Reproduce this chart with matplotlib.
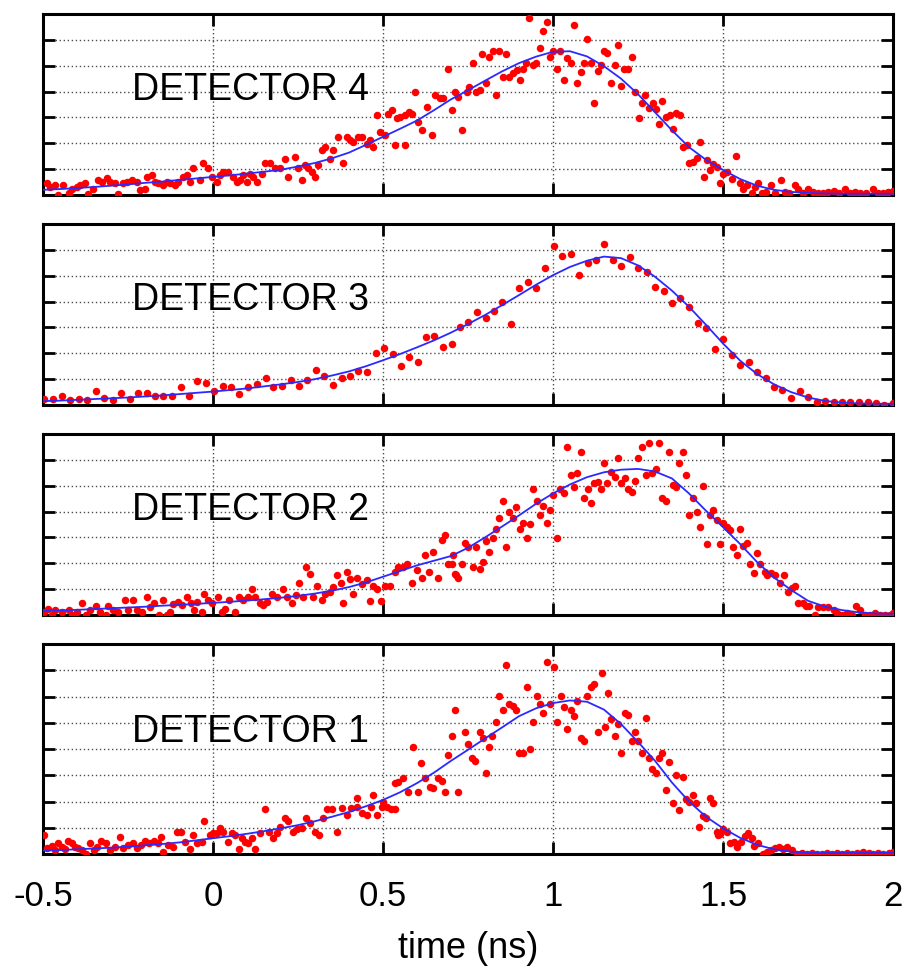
import numpy as np
import matplotlib.pyplot as plt

plt.rcParams['font.family'] = ['Liberation Sans', 'DejaVu Sans']
plt.rcParams['axes.unicode_minus'] = False

# time grid (ns) on which the fitted curves were read
fit_t = [-0.5, -0.45, -0.4, -0.35, -0.3, -0.25, -0.2, -0.15, -0.1, -0.05,
         0.0, 0.05, 0.1, 0.15, 0.2, 0.25, 0.3, 0.35, 0.4, 0.45,
         0.5, 0.55, 0.6, 0.65, 0.7, 0.75, 0.8, 0.85, 0.9, 0.95,
         1.0, 1.05, 1.1, 1.15, 1.2, 1.25, 1.3, 1.35, 1.4, 1.45,
         1.5, 1.55, 1.6, 1.65, 1.7, 1.75, 1.8, 1.85, 1.9, 1.95, 2.0]

# ---- detector 4 ----
det4_points = [
    (-0.489, 0.45), (-0.479, 0.32), (-0.465, 0.38), (-0.455, 0.0), (-0.44, 0.38), (-0.425, 0.06),
    (-0.416, 0.25), (-0.401, 0.32), (-0.391, 0.38), (-0.376, 0.47), (-0.367, 0.02), (-0.352, 0.25),
    (-0.337, 0.57), (-0.327, 0.51), (-0.313, 0.64), (-0.303, 0.51), (-0.288, 0.45), (-0.278, 0.03),
    (-0.264, 0.47), (-0.254, 0.51), (-0.239, 0.57), (-0.225, 0.51), (-0.215, 0.19), (-0.2, 0.25),
    (-0.195, 0.7), (-0.18, 0.77), (-0.171, 0.51), (-0.161, 0.45), (-0.146, 0.38), (-0.136, 0.51),
    (-0.126, 0.47), (-0.112, 0.38), (-0.102, 0.51), (-0.087, 0.7), (-0.077, 0.77), (-0.068, 0.51),
    (-0.058, 1.03), (-0.038, 0.57), (-0.028, 1.22), (-0.014, 1.03), (-0.004, 0.7), (0.011, 0.51),
    (0.021, 0.77), (0.03, 0.9), (0.045, 0.9), (0.06, 0.7), (0.07, 0.51), (0.079, 0.57),
    (0.089, 0.77), (0.099, 0.51), (0.109, 0.83), (0.119, 0.7), (0.128, 0.51), (0.143, 0.83),
    (0.153, 1.22), (0.168, 1.22), (0.182, 1.03), (0.197, 1.03), (0.212, 1.41), (0.222, 0.7),
    (0.241, 1.48), (0.251, 1.03), (0.261, 0.57), (0.271, 1.15), (0.28, 1.03), (0.29, 0.9),
    (0.3, 0.7), (0.31, 1.15), (0.32, 1.74), (0.329, 1.86), (0.344, 1.41), (0.354, 1.74),
    (0.369, 2.25), (0.383, 1.22), (0.393, 2.25), (0.403, 2.12), (0.413, 2.05), (0.427, 2.25),
    (0.437, 2.25), (0.452, 1.99), (0.462, 2.12), (0.472, 1.86), (0.481, 3.09), (0.491, 2.45),
    (0.506, 2.32), (0.516, 3.15), (0.525, 3.28), (0.535, 1.92), (0.54, 2.96), (0.55, 3.03),
    (0.565, 1.92), (0.565, 3.09), (0.575, 3.22), (0.584, 3.15), (0.594, 3.99), (0.604, 2.83),
    (0.614, 2.51), (0.628, 3.41), (0.643, 2.32), (0.653, 3.86), (0.668, 3.74), (0.677, 3.74),
    (0.692, 4.89), (0.702, 3.28), (0.712, 3.99), (0.722, 3.8), (0.732, 2.51), (0.747, 3.99),
    (0.754, 4.19), (0.764, 5.12), (0.774, 3.99), (0.786, 4.08), (0.792, 5.45), (0.803, 4.34),
    (0.812, 5.35), (0.823, 5.58), (0.831, 3.86), (0.842, 5.58), (0.854, 4.55), (0.862, 5.45),
    (0.872, 4.57), (0.883, 4.73), (0.893, 4.83), (0.903, 4.45), (0.911, 4.89), (0.921, 5.12),
    (0.93, 6.83), (0.94, 5.03), (0.95, 5.12), (0.962, 5.67), (0.972, 6.35), (0.981, 6.7),
    (0.991, 5.35), (1.001, 5.58), (1.013, 4.89), (1.021, 5.58), (1.033, 4.45), (1.042, 5.28),
    (1.052, 5.09), (1.062, 6.57), (1.072, 4.34), (1.082, 4.77), (1.091, 5.12), (1.101, 6.02),
    (1.111, 5.12), (1.121, 3.54), (1.131, 4.81), (1.14, 5.03), (1.15, 5.58), (1.16, 5.48),
    (1.172, 4.34), (1.181, 5.03), (1.191, 5.8), (1.201, 4.21), (1.209, 4.89), (1.222, 4.89),
    (1.232, 5.35), (1.241, 3.99), (1.252, 2.96), (1.261, 3.54), (1.27, 3.86), (1.282, 3.35),
    (1.294, 3.54), (1.303, 3.31), (1.313, 2.74), (1.322, 3.65), (1.332, 3.03), (1.344, 3.09),
    (1.352, 2.54), (1.362, 3.18), (1.374, 3.09), (1.383, 1.86), (1.393, 1.92), (1.401, 1.25),
    (1.413, 1.28), (1.423, 1.45), (1.433, 2.05), (1.443, 0.7), (1.452, 1.37), (1.462, 0.96),
    (1.472, 1.19), (1.482, 1.09), (1.491, 0.47), (1.501, 0.81), (1.513, 0.9), (1.526, 0.6),
    (1.538, 1.5), (1.55, 0.47), (1.56, 0.25), (1.571, 0.38), (1.584, 0.06), (1.594, 0.32),
    (1.604, 0.45), (1.614, 0.08), (1.626, 0.12), (1.642, 0.38), (1.654, 0.08), (1.671, 0.57),
    (1.682, 0.12), (1.695, 0.08), (1.712, 0.38), (1.722, 0.25), (1.736, 0.08), (1.751, 0.25),
    (1.766, 0.12), (1.78, 0.08), (1.795, 0.06), (1.81, 0.12), (1.825, 0.16), (1.84, 0.08),
    (1.859, 0.25), (1.874, 0.08), (1.888, 0.12), (1.903, 0.08), (1.922, 0.08), (1.94, 0.25),
    (1.957, 0.08), (1.972, 0.08), (1.986, 0.12), (2.0, 0.16)]
det4_fit = [0.2, 0.23, 0.27, 0.31, 0.36, 0.41, 0.47, 0.52, 0.58, 0.64,
            0.7, 0.76, 0.83, 0.9, 0.98, 1.1, 1.24, 1.42, 1.64, 1.94,
            2.25, 2.56, 2.88, 3.28, 3.7, 4.05, 4.42, 4.78, 5.1, 5.35,
            5.54, 5.56, 5.36, 4.98, 4.5, 3.9, 3.2, 2.5, 1.85, 1.36,
            0.97, 0.62, 0.36, 0.2, 0.12, 0.08, 0.06, 0.05, 0.05, 0.05, 0.05]

# ---- detector 3 ----
det3_points = [
    (-0.497, 0.25), (-0.472, 0.25), (-0.445, 0.35), (-0.42, 0.19), (-0.394, 0.25), (-0.37, 0.19),
    (-0.344, 0.55), (-0.32, 0.29), (-0.295, 0.19), (-0.27, 0.48), (-0.244, 0.25), (-0.22, 0.45),
    (-0.195, 0.45), (-0.17, 0.35), (-0.146, 0.35), (-0.12, 0.35), (-0.095, 0.68), (-0.07, 0.35),
    (-0.046, 0.94), (-0.02, 0.87), (0.004, 0.55), (0.028, 0.74), (0.053, 0.7), (0.077, 0.41),
    (0.104, 0.7), (0.128, 0.83), (0.155, 1.03), (0.177, 0.68), (0.204, 0.74), (0.228, 0.96),
    (0.253, 0.74), (0.277, 0.96), (0.303, 1.35), (0.327, 1.13), (0.352, 0.77), (0.378, 1.03),
    (0.403, 1.13), (0.427, 1.31), (0.452, 1.26), (0.478, 2.03), (0.503, 2.19), (0.528, 1.97),
    (0.553, 1.5), (0.577, 1.84), (0.602, 1.67), (0.627, 2.64), (0.651, 2.68), (0.676, 2.23),
    (0.702, 2.35), (0.726, 3.0), (0.751, 3.22), (0.777, 3.61), (0.802, 3.37), (0.827, 3.65),
    (0.851, 3.99), (0.876, 3.15), (0.901, 4.51), (0.925, 4.77), (0.95, 4.51), (0.977, 5.28),
    (1.003, 6.16), (1.027, 5.77), (1.052, 5.83), (1.077, 5.03), (1.102, 5.48), (1.127, 5.61),
    (1.151, 6.21), (1.176, 5.61), (1.2, 5.39), (1.227, 5.74), (1.251, 5.28), (1.276, 5.15),
    (1.3, 4.57), (1.325, 4.42), (1.35, 3.95), (1.374, 4.12), (1.4, 3.8), (1.425, 3.18),
    (1.449, 2.99), (1.477, 2.16), (1.501, 2.55), (1.526, 1.93), (1.55, 1.54), (1.575, 1.65),
    (1.599, 1.26), (1.625, 1.06), (1.65, 0.68), (1.674, 0.57), (1.699, 0.28), (1.725, 0.54),
    (1.751, 0.32), (1.776, 0.12), (1.8, 0.16), (1.825, 0.12), (1.849, 0.12), (1.874, 0.1),
    (1.9, 0.12), (1.925, 0.12), (1.95, 0.08), (1.974, 0.0), (2.0, 0.08)]
det3_fit = [0.15, 0.17, 0.2, 0.23, 0.26, 0.29, 0.33, 0.37, 0.42, 0.47,
            0.52, 0.58, 0.64, 0.72, 0.8, 0.89, 1.0, 1.14, 1.3, 1.5,
            1.73, 1.97, 2.23, 2.5, 2.8, 3.13, 3.48, 3.86, 4.25, 4.65,
            5.02, 5.34, 5.58, 5.74, 5.68, 5.4, 4.96, 4.42, 3.8, 3.1,
            2.38, 1.72, 1.2, 0.8, 0.5, 0.29, 0.16, 0.09, 0.06, 0.05, 0.05]

# ---- detector 2 ----
det2_points = [
    (-0.497, 0.12), (-0.484, 0.25), (-0.474, 0.0), (-0.465, 0.21), (-0.445, 0.12), (-0.425, 0.21),
    (-0.416, 0.0), (-0.401, 0.12), (-0.386, 0.45), (-0.373, 0.0), (-0.363, 0.21), (-0.344, 0.34),
    (-0.332, 0.12), (-0.315, 0.0), (-0.308, 0.34), (-0.293, 0.21), (-0.278, 0.12), (-0.259, 0.57),
    (-0.249, 0.21), (-0.236, 0.57), (-0.225, 0.21), (-0.21, 0.12), (-0.195, 0.68), (-0.185, 0.32),
    (-0.174, 0.45), (-0.158, 0.0), (-0.146, 0.57), (-0.136, 0.0), (-0.126, 0.12), (-0.117, 0.41),
    (-0.102, 0.51), (-0.092, 0.38), (-0.077, 0.68), (-0.066, 0.47), (-0.056, 0.21), (-0.046, 0.51),
    (-0.033, 0.12), (-0.026, 0.81), (-0.014, 0.57), (-0.004, 0.47), (0.016, 0.7), (0.025, 0.12),
    (0.035, 0.25), (0.048, 0.57), (0.065, 0.12), (0.075, 0.7), (0.089, 0.57), (0.104, 0.7),
    (0.114, 0.99), (0.124, 0.7), (0.138, 0.47), (0.148, 0.38), (0.158, 0.51), (0.173, 0.81),
    (0.187, 0.7), (0.205, 0.99), (0.217, 0.7), (0.231, 0.47), (0.244, 0.77), (0.254, 1.22),
    (0.266, 0.68), (0.274, 1.86), (0.285, 1.6), (0.295, 0.68), (0.305, 1.12), (0.32, 0.57),
    (0.329, 0.81), (0.344, 0.9), (0.354, 1.09), (0.364, 1.54), (0.375, 1.22), (0.383, 0.45),
    (0.393, 1.67), (0.403, 1.41), (0.413, 0.81), (0.423, 1.45), (0.437, 1.19), (0.452, 1.35),
    (0.462, 0.55), (0.472, 1.12), (0.483, 0.99), (0.493, 0.55), (0.506, 1.12), (0.522, 1.12),
    (0.535, 1.67), (0.545, 1.86), (0.56, 1.86), (0.572, 1.99), (0.584, 1.22), (0.599, 1.74),
    (0.614, 1.45), (0.624, 2.32), (0.636, 1.67), (0.648, 2.45), (0.663, 1.45), (0.673, 2.9),
    (0.683, 3.09), (0.692, 1.99), (0.706, 2.32), (0.716, 1.54), (0.702, 1.99), (0.711, 1.58),
    (0.722, 1.45), (0.732, 1.99), (0.741, 2.77), (0.751, 2.64), (0.764, 1.86), (0.774, 2.64),
    (0.784, 1.77), (0.793, 2.06), (0.803, 2.87), (0.813, 2.45), (0.823, 2.96), (0.833, 3.31),
    (0.842, 3.74), (0.852, 4.42), (0.862, 2.64), (0.872, 3.99), (0.882, 3.74), (0.891, 4.19),
    (0.903, 3.31), (0.913, 3.54), (0.923, 2.96), (0.933, 3.51), (0.942, 4.86), (0.952, 4.42),
    (0.962, 3.86), (0.972, 4.21), (0.982, 3.54), (0.991, 4.06), (1.001, 4.64), (1.011, 2.96),
    (1.021, 4.89), (1.031, 4.73), (1.04, 6.51), (1.052, 5.41), (1.062, 4.96), (1.072, 5.51),
    (1.082, 6.29), (1.092, 4.51), (1.102, 4.86), (1.111, 4.32), (1.121, 5.09), (1.131, 5.15),
    (1.14, 4.86), (1.15, 5.86), (1.16, 5.09), (1.17, 5.54), (1.182, 5.32), (1.191, 6.06),
    (1.201, 5.09), (1.211, 5.28), (1.222, 4.89), (1.232, 4.77), (1.241, 5.19), (1.251, 6.06),
    (1.261, 6.51), (1.273, 5.41), (1.282, 6.64), (1.292, 5.48), (1.302, 5.63), (1.311, 6.64),
    (1.322, 4.51), (1.332, 4.42), (1.342, 6.29), (1.352, 5.03), (1.362, 4.96), (1.372, 5.86),
    (1.381, 6.29), (1.391, 5.41), (1.401, 3.86), (1.411, 4.51), (1.423, 3.99), (1.431, 3.41),
    (1.442, 4.99), (1.452, 2.74), (1.462, 3.86), (1.472, 4.08), (1.481, 3.67), (1.491, 2.74),
    (1.501, 3.54), (1.511, 3.41), (1.52, 3.28), (1.53, 2.64), (1.54, 2.32), (1.55, 3.31),
    (1.56, 2.67), (1.57, 2.77), (1.579, 1.99), (1.591, 1.63), (1.6, 2.41), (1.61, 1.99),
    (1.623, 1.67), (1.63, 1.54), (1.64, 1.63), (1.652, 1.54), (1.668, 1.22), (1.679, 1.54),
    (1.69, 0.9), (1.702, 1.03), (1.712, 1.12), (1.722, 0.45), (1.734, 0.47), (1.744, 0.34),
    (1.754, 0.34), (1.771, 0.0), (1.78, 0.32), (1.795, 0.32), (1.81, 0.32), (1.825, 0.19),
    (1.835, 0.08), (1.849, 0.0), (1.864, 0.08), (1.879, 0.0), (1.891, 0.34), (1.903, 0.21),
    (1.918, 0.0), (1.933, 0.0), (1.947, 0.08), (1.962, 0.0), (1.977, 0.0), (1.991, 0.0),
    (2.0, 0.08)]
det2_fit = [0.16, 0.18, 0.2, 0.23, 0.26, 0.29, 0.32, 0.36, 0.39, 0.43,
            0.47, 0.51, 0.56, 0.61, 0.67, 0.74, 0.83, 0.94, 1.08, 1.26,
            1.48, 1.7, 1.92, 2.1, 2.28, 2.6, 3.0, 3.42, 3.85, 4.3,
            4.7, 5.05, 5.33, 5.52, 5.62, 5.65, 5.55, 5.28, 4.7, 4.03,
            3.4, 2.75, 2.05, 1.45, 0.97, 0.55, 0.32, 0.19, 0.1, 0.06, 0.05]

# ---- detector 1 ----
det1_points = [
    (-0.497, 0.72), (-0.489, 0.22), (-0.475, 0.3), (-0.465, 0.15), (-0.455, 0.41), (-0.445, 0.28),
    (-0.436, 0.18), (-0.426, 0.51), (-0.416, 0.41), (-0.406, 0.28), (-0.396, 0.22), (-0.386, 0.15),
    (-0.374, 0.0), (-0.362, 0.41), (-0.35, 0.15), (-0.34, 0.28), (-0.328, 0.51), (-0.315, 0.41),
    (-0.303, 0.15), (-0.288, 0.28), (-0.275, 0.64), (-0.264, 0.22), (-0.249, 0.34), (-0.236, 0.43),
    (-0.225, 0.22), (-0.212, 0.34), (-0.2, 0.51), (-0.187, 0.41), (-0.175, 0.51), (-0.163, 0.41),
    (-0.154, 0.64), (-0.146, 0.09), (-0.132, 0.34), (-0.119, 0.28), (-0.107, 0.85), (-0.095, 0.85),
    (-0.082, 0.47), (-0.068, 0.18), (-0.058, 0.72), (-0.046, 0.41), (-0.033, 0.47), (-0.026, 1.27),
    (-0.009, 0.72), (0.001, 0.79), (0.013, 0.81), (0.021, 0.98), (0.03, 0.85), (0.045, 0.47),
    (0.055, 0.79), (0.065, 0.72), (0.075, 0.18), (0.085, 0.6), (0.094, 0.47), (0.104, 0.41),
    (0.114, 0.6), (0.124, 0.18), (0.138, 0.79), (0.153, 1.7), (0.166, 0.85), (0.177, 0.6),
    (0.187, 0.79), (0.197, 1.04), (0.212, 1.36), (0.221, 1.27), (0.234, 0.85), (0.246, 0.94),
    (0.261, 0.98), (0.274, 1.36), (0.285, 1.19), (0.3, 0.85), (0.313, 0.72), (0.323, 1.36),
    (0.334, 1.7), (0.349, 1.7), (0.364, 0.85), (0.378, 1.74), (0.393, 1.49), (0.407, 1.74),
    (0.423, 1.8), (0.437, 1.55), (0.452, 1.49), (0.466, 1.8), (0.481, 1.49), (0.496, 1.8),
    (0.511, 1.8), (0.523, 1.7), (0.535, 1.7), (0.423, 2.12), (0.472, 2.25), (0.501, 1.99),
    (0.535, 2.69), (0.545, 2.76), (0.56, 2.88), (0.574, 2.35), (0.589, 4.09), (0.604, 2.35),
    (0.611, 3.46), (0.624, 2.88), (0.638, 2.57), (0.648, 2.5), (0.663, 2.88), (0.673, 2.8),
    (0.683, 2.35), (0.692, 3.77), (0.702, 4.5), (0.712, 5.49), (0.722, 2.35), (0.741, 4.63),
    (0.751, 4.19), (0.761, 3.65), (0.771, 3.56), (0.785, 4.63), (0.793, 4.41), (0.802, 3.1),
    (0.812, 4.09), (0.822, 4.5), (0.832, 5.04), (0.842, 6.02), (0.852, 5.49), (0.862, 7.2),
    (0.872, 5.72), (0.881, 5.62), (0.891, 5.49), (0.901, 3.86), (0.911, 3.86), (0.923, 6.35),
    (0.933, 3.99), (0.942, 5.04), (0.952, 6.02), (0.962, 5.72), (0.972, 5.39), (0.982, 7.33),
    (0.991, 5.72), (1.003, 7.12), (1.013, 5.04), (1.023, 6.02), (1.033, 5.59), (1.042, 4.75),
    (1.052, 5.49), (1.062, 5.26), (1.072, 5.84), (1.082, 4.41), (1.091, 4.32), (1.101, 6.02),
    (1.111, 6.38), (1.121, 6.48), (1.131, 4.63), (1.143, 6.89), (1.152, 4.83), (1.163, 6.15),
    (1.172, 5.13), (1.181, 4.5), (1.191, 4.96), (1.201, 3.86), (1.211, 5.39), (1.222, 5.3),
    (1.232, 4.32), (1.241, 4.63), (1.251, 4.32), (1.261, 3.86), (1.273, 5.17), (1.282, 3.65),
    (1.292, 3.23), (1.302, 3.1), (1.312, 3.65), (1.322, 3.86), (1.332, 2.44), (1.341, 3.52),
    (1.352, 1.93), (1.362, 3.01), (1.372, 1.68), (1.381, 2.92), (1.391, 2.08), (1.401, 1.99),
    (1.411, 2.25), (1.42, 1.93), (1.43, 1.04), (1.44, 1.45), (1.45, 1.36), (1.462, 2.12),
    (1.472, 1.93), (1.481, 0.85), (1.491, 0.76), (1.501, 0.94), (1.511, 0.85), (1.486, 0.72),
    (1.521, 0.43), (1.533, 0.47), (1.542, 0.28), (1.552, 0.47), (1.565, 0.69), (1.574, 0.79),
    (1.584, 0.6), (1.591, 0.3), (1.604, 0.41), (1.619, 0.0), (1.629, 0.09), (1.64, 0.15),
    (1.653, 0.22), (1.666, 0.25), (1.677, 0.18), (1.689, 0.28), (1.702, 0.15), (1.717, 0.0),
    (1.732, 0.03), (1.746, 0.0), (1.761, 0.03), (1.776, 0.0), (1.79, 0.0), (1.805, 0.03),
    (1.82, 0.0), (1.835, 0.03), (1.849, 0.0), (1.864, 0.03), (1.879, 0.0), (1.894, 0.03),
    (1.913, 0.09), (1.928, 0.03), (1.942, 0.0), (1.957, 0.03), (1.972, 0.0), (1.987, 0.03),
    (2.0, 0.06)]
det1_fit = [0.13, 0.15, 0.18, 0.21, 0.24, 0.28, 0.33, 0.38, 0.44, 0.52,
            0.6, 0.68, 0.77, 0.87, 0.98, 1.1, 1.25, 1.42, 1.6, 1.82,
            2.06, 2.35, 2.7, 3.1, 3.55, 3.97, 4.4, 4.82, 5.25, 5.55,
            5.75, 5.85, 5.8, 5.5, 4.95, 4.27, 3.55, 2.72, 2.0, 1.42,
            0.98, 0.62, 0.35, 0.18, 0.09, 0.05, 0.04, 0.04, 0.04, 0.04, 0.04]

labels = ['DETECTOR 4', 'DETECTOR 3', 'DETECTOR 2', 'DETECTOR 1']
all_points = [det4_points, det3_points, det2_points, det1_points]
all_fits = [det4_fit, det3_fit, det2_fit, det1_fit]
y_max = [7, 7, 7, 8]

W, H = 910, 968
fig = plt.figure(figsize=(W / 100, H / 100), dpi=100)

# panel frames in pixels (top, bottom)
frames = [(14, 195), (224, 405), (434, 615), (644, 854)]
x_left, x_right = 43, 893

for i, (top, bottom) in enumerate(frames):
    ax = fig.add_axes([x_left / W, 1 - bottom / H, (x_right - x_left) / W, (bottom - top) / H])
    pts = np.array(all_points[i])
    ax.plot(pts[:, 0], pts[:, 1], 'o', color='#ff0000', ms=5.4, mec='none', zorder=3)
    ax.plot(fit_t, all_fits[i], color='#2a2aff', lw=1.3, zorder=4)

    ax.set_xlim(-0.5, 2)
    ax.set_ylim(0, y_max[i])
    ax.set_xticks([-0.5, 0, 0.5, 1, 1.5, 2])
    ax.set_xticklabels(['-0.5', '0', '0.5', '1', '1.5', '2'])
    ax.set_yticks(range(0, y_max[i] + 1))
    ax.grid(True, color='0.3', linestyle=(0, (1, 1.9)), linewidth=1.0, zorder=1)
    ax.tick_params(direction='in', length=8.5, width=2.0, top=True, right=True,
                   labelleft=False, labelbottom=(i == 3), labelsize=25, pad=19)
    for sp in ax.spines.values():
        sp.set_linewidth(2.2)

    base = 4.27 if i == 3 else 3.67
    ax.text(-0.238, base, labels[i], fontsize=27, va='baseline', ha='left', zorder=5)

fig.text(468 / W, 1 - 948 / H, 'time (ns)', fontsize=26, ha='center', va='center')

fig.savefig('out.png', dpi=100)
